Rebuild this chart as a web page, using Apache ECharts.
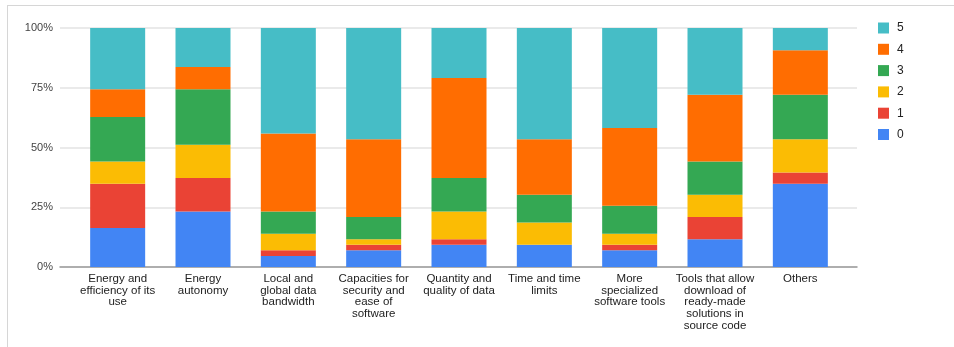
<!DOCTYPE html>
<html>
<head>
<meta charset="utf-8">
<script src="https://cdn.jsdelivr.net/npm/echarts@6/dist/echarts.min.js"></script>
<style>
  html, body { margin: 0; padding: 0; background: #fff; }
  #frame { position: absolute; left: 7px; top: 5px; width: 960px; height: 342px;
           border-top: 1px solid #d6d6d6; border-left: 1px solid #d6d6d6; box-sizing: border-box; }
  #chart { position: absolute; left: 0; top: 0; width: 954px; height: 347px; }
</style>
</head>
<body>
<div id="frame"></div>
<div id="chart"></div>
<script>
// Survey answers (number of respondents per rating) for each topic
const categories = [
  'Energy and\nefficiency of its\nuse',
  'Energy\nautonomy',
  'Local and\nglobal data\nbandwidth',
  'Capacities for\nsecurity and\nease of\nsoftware',
  'Quantity and\nquality of data',
  'Time and time\nlimits',
  'More\nspecialized\nsoftware tools',
  'Tools that allow\ndownload of\nready-made\nsolutions in\nsource code',
  'Others'
];
const rating0 = [7, 10, 2, 3, 4, 4, 3, 5, 15];
const rating1 = [8, 6, 1, 1, 1, 0, 1, 4, 2];
const rating2 = [4, 6, 3, 1, 5, 4, 2, 4, 6];
const rating3 = [8, 10, 4, 4, 6, 5, 5, 6, 8];
const rating4 = [5, 4, 14, 14, 18, 10, 14, 12, 8];
const rating5 = [11, 7, 19, 20, 9, 20, 18, 12, 4];
const seriesNames = ['0', '1', '2', '3', '4', '5'];
const yTicks = [0, 25, 50, 75, 100];

const ratings = [rating0, rating1, rating2, rating3, rating4, rating5];
const colors = ['#4285F4', '#EA4335', '#FBBC04', '#34A853', '#FF6D01', '#46BDC6'];

// Totals per category, used to express each rating as a share (100% stacked)
const totals = categories.map((_, i) => ratings.reduce((s, r) => s + r[i], 0));

const font = 'Liberation Sans, Arial, sans-serif';

const chart = echarts.init(document.getElementById('chart'), null, { renderer: 'canvas' });
chart.setOption({
  animation: false,
  textStyle: { fontFamily: font },
  legend: {
    orient: 'vertical',
    left: 873,
    top: 17,
    itemWidth: 11,
    itemHeight: 11,
    itemGap: 9.3,
    icon: 'rect',
    data: seriesNames.slice().reverse(),
    textStyle: { fontSize: 12, color: '#222', fontFamily: font, padding: [0, 0, 0, 3] }
  },
  grid: [
    { left: 60, right: 97, top: 28, bottom: 80 },
    { left: 75, right: 111, top: 28, bottom: 80 }
  ],
  xAxis: [
    {
      type: 'value', gridIndex: 0, min: 0, max: 1,
      axisLabel: { show: false }, axisTick: { show: false }, splitLine: { show: false },
      axisLine: { show: true, onZero: false, lineStyle: { color: '#9a9a9a', width: 1.5 } }
    },
    {
      type: 'category', gridIndex: 1, data: categories,
      axisLine: { show: false }, axisTick: { show: false },
      axisLabel: {
        interval: 0, margin: 6, fontSize: 11.5, lineHeight: 11.7, color: '#222', fontFamily: font
      }
    }
  ],
  yAxis: [
    {
      type: 'value', gridIndex: 0, min: yTicks[0], max: yTicks[yTicks.length - 1], interval: 25,
      axisLine: { show: false }, axisTick: { show: false },
      axisLabel: { formatter: '{value}%', margin: 7, fontSize: 11, color: '#444', fontFamily: font },
      splitLine: { show: true, lineStyle: { color: '#e3e3e3', width: 1.5 } }
    },
    {
      type: 'value', gridIndex: 1, min: 0, max: 100, show: false
    }
  ],
  series: ratings.map((r, k) => ({
    name: seriesNames[k],
    type: 'bar',
    stack: 'share',
    xAxisIndex: 1,
    yAxisIndex: 1,
    barWidth: 55,
    itemStyle: { color: colors[k] },
    data: r.map((v, i) => v / totals[i] * 100)
  }))
});
</script>
</body>
</html>
